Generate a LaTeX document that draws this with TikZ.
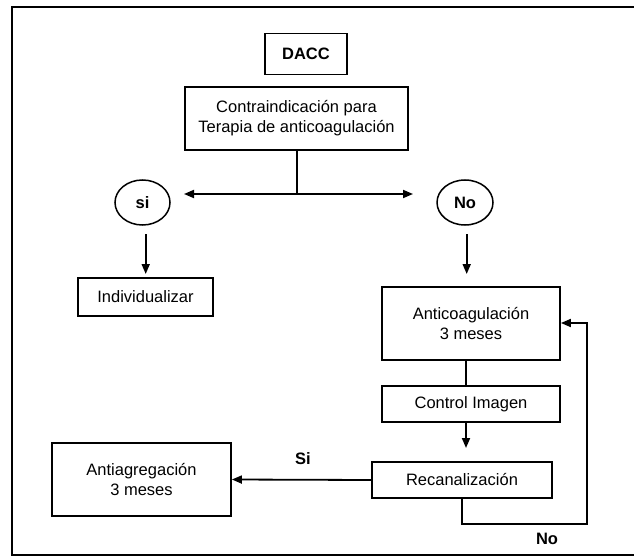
\documentclass[tikz,border=0pt]{standalone}
\usepackage{fontspec}
\setmainfont{Liberation Sans}
\usetikzlibrary{arrows.meta,shapes.geometric}
\tikzset{
  box/.style={draw, line width=1.8pt, rectangle, inner sep=0pt, align=center,
    font=\fontsize{16.5}{20}\selectfont},
  oval/.style={draw, line width=1.5pt, ellipse, inner sep=0pt,
    font=\fontsize{16.5}{20}\selectfont\bfseries},
  conn/.style={line width=1.8pt},
  arr/.style={line width=1.8pt, -{Triangle[length=10pt,width=8pt]}},
  lbl/.style={font=\fontsize{16.5}{20}\selectfont\bfseries, inner sep=0pt}
}
\begin{document}
\begin{tikzpicture}[x=1pt,y=-1pt]
\useasboundingbox (0,0) rectangle (634,556);
\draw[line width=1.9pt] (634,7) -- (12,7) -- (12,555) -- (634,555);

\node[box, minimum width=82pt, minimum height=41pt, font=\fontsize{16.5}{20}\selectfont\bfseries] (dacc) at (306,54) {DACC};
\node[box, minimum width=223pt, minimum height=63pt] (contra) at (296.5,118.5) {Contraindicación para\\Terapia de anticoagulación};
\node[oval, minimum width=55pt, minimum height=45pt] (si) at (142.5,202.5) {si};
\node[oval, minimum width=56pt, minimum height=45pt] (no) at (465,202.5) {No};
\node[box, minimum width=135pt, minimum height=38pt] (indiv) at (145.5,297) {Individualizar};
\node[box, minimum width=178pt, minimum height=73pt] (anti) at (471,323.5) {Anticoagulación\\3 meses};
\node[box, minimum width=178pt, minimum height=36pt] (ctrl) at (471,404) {Control Imagen};
\node[box, minimum width=180pt, minimum height=36pt] (recan) at (462,480) {Recanalización};
\node[box, minimum width=179pt, minimum height=73pt] (antiag) at (141.5,479.5) {Antiagregación\\3 meses};

\coordinate (split) at (297,194);
\coordinate (lefttip) at (184,194);
\coordinate (righttip) at (413,194);
\draw[conn] (contra.south -| split) -- (split);
\draw[arr] (split) -- (lefttip);
\draw[arr] (split) -- (righttip);

\coordinate (sistart) at (145.7,234);
\coordinate (siend) at (145.7,274);
\draw[arr] (sistart) -- (siend);
\coordinate (nostart) at (466.7,234);
\coordinate (noend) at (466.7,274);
\draw[arr] (nostart) -- (noend);

\coordinate (axis) at (466,0);
\draw[conn] (anti.south -| axis) -- (ctrl.north -| axis);
\coordinate (ctrltip) at (466,448);
\draw[arr] (ctrl.south -| axis) -- (ctrltip);

\draw[arr] (recan.west) -- (antiag.east);
\node[lbl] (silbl) at (303,459) {Si};

\coordinate (loopa) at (462,524);
\coordinate (loopb) at (587,524);
\coordinate (loopc) at (587,323);
\draw[arr] (recan.south -| loopa) -- (loopa) -- (loopb) -- (loopc) -- (anti.east |- loopc);
\node[lbl] (nolbl) at (547,539) {No};
\end{tikzpicture}
\end{document}
